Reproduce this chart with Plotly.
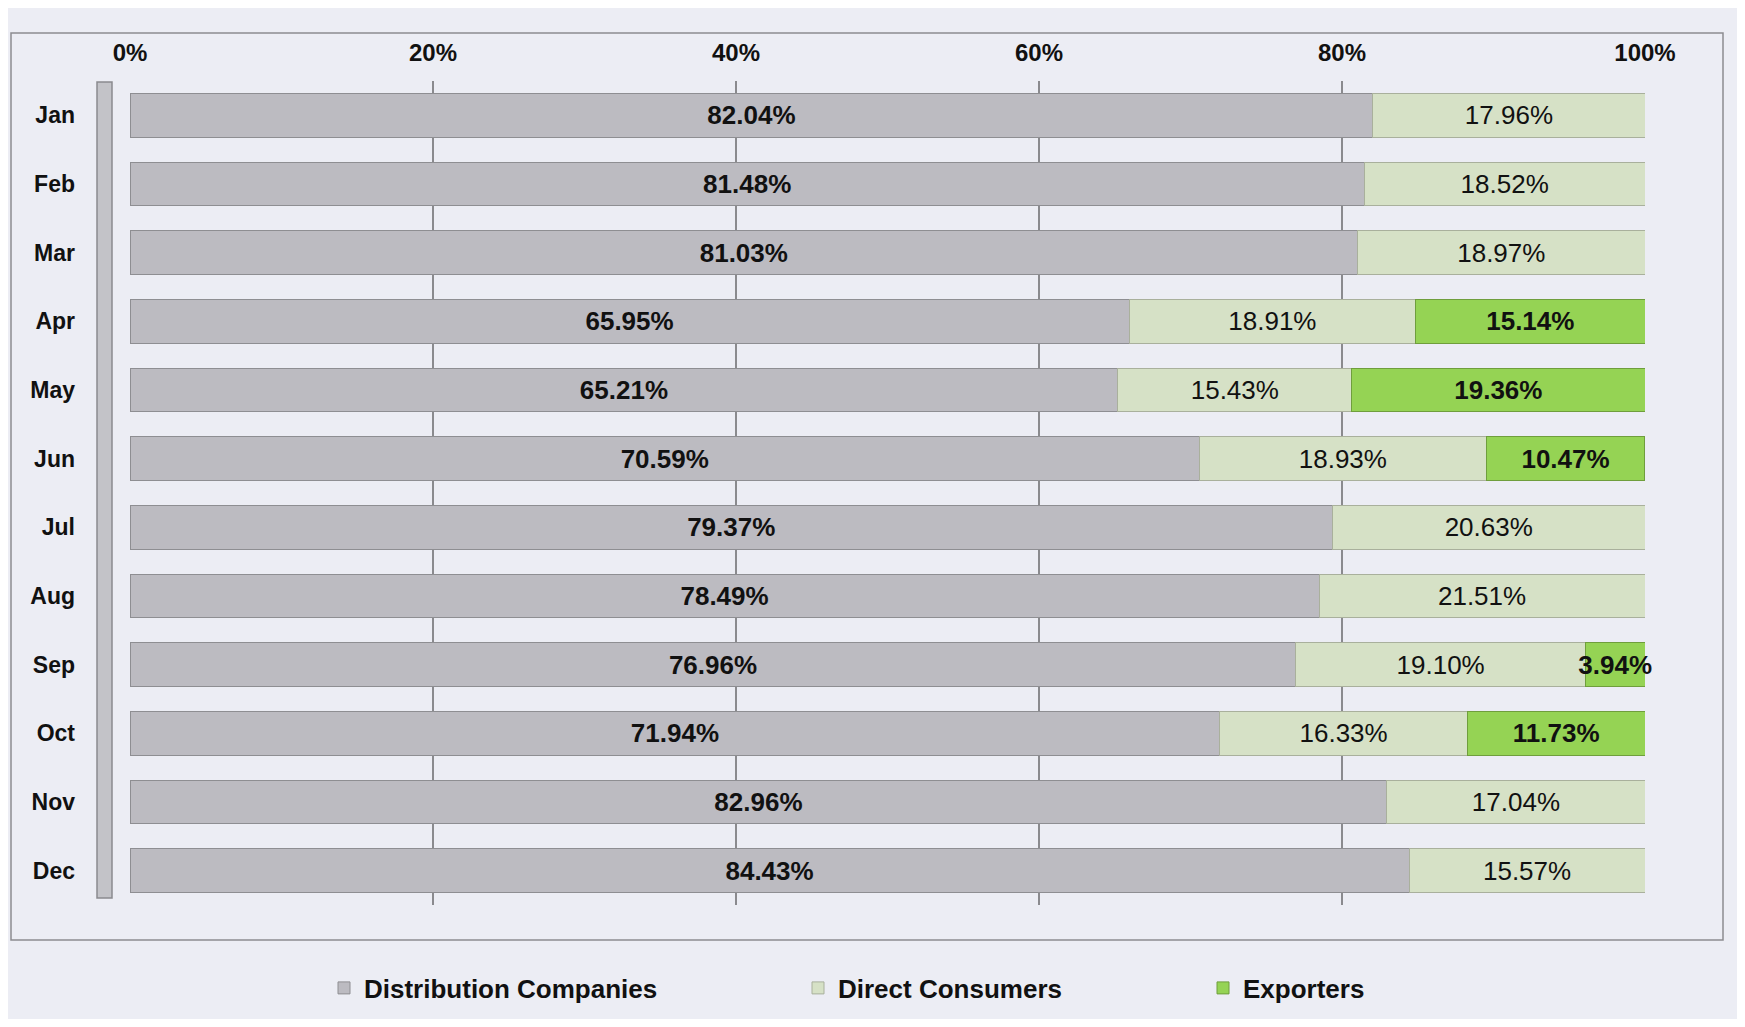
import plotly.graph_objects as go

months = ["Jan", "Feb", "Mar", "Apr", "May", "Jun", "Jul", "Aug", "Sep", "Oct", "Nov", "Dec"]
distribution = [82.04, 81.48, 81.03, 65.95, 65.21, 70.59, 79.37, 78.49, 76.96, 71.94, 82.96, 84.43]
direct = [17.96, 18.52, 18.97, 18.91, 15.43, 18.93, 20.63, 21.51, 19.10, 16.33, 17.04, 15.57]
exporters = [None, None, None, 15.14, 19.36, 10.47, None, None, 3.94, 11.73, None, None]
tick_vals = [0, 20, 40, 60, 80, 100]
tick_text = ["0%", "20%", "40%", "60%", "80%", "100%"]

FONT = "Liberation Sans, Arial, sans-serif"


def labels(vals):
    return ["" if v is None else f"{v:.2f}%" for v in vals]


fig = go.Figure()
fig.add_trace(go.Bar(
    y=months, x=distribution, orientation="h", name="Distribution Companies",
    marker=dict(color="#bcbbc1", line=dict(color="#8e8e92", width=1)),
    text=labels(distribution), textposition="inside", insidetextanchor="middle",
    constraintext="none",
    textfont=dict(family=FONT, size=26, color="#111111", weight="bold"),
    hoverinfo="skip", legend="legend",
))
fig.add_trace(go.Bar(
    y=months, x=direct, orientation="h", name="Direct Consumers",
    marker=dict(color="#d6e1c6", line=dict(color="#a9b09c", width=1)),
    text=labels(direct), textposition="inside", insidetextanchor="middle",
    constraintext="none",
    textfont=dict(family=FONT, size=26, color="#111111"),
    hoverinfo="skip", legend="legend2",
))
fig.add_trace(go.Bar(
    y=months, x=exporters, orientation="h", name="Exporters",
    marker=dict(color="#95d354", line=dict(color="#6f9e3c", width=1)),
    text=labels(exporters), textposition="inside", insidetextanchor="middle",
    constraintext="none",
    textfont=dict(family=FONT, size=26, color="#111111", weight="bold"),
    hoverinfo="skip", cliponaxis=False, legend="legend3",
))

# the page body adds an 8px margin; work in page coordinates and compensate
OFF = 8
W, H = 1745 - 2 * OFF, 1027 - 2 * OFF
PL, PR, PT, PB = 130, 1645, 81, 905  # plot area in page pixels
L = PL - OFF
R = W - (PR - OFF)
T = PT - OFF
B = H - (PB - OFF)
pw, ph = PR - PL, PB - PT


def px(x):
    return (x - PL) / pw


def py(y):
    return (PB - y) / ph


shapes = [
    # outer chart border
    dict(type="rect", xref="paper", yref="paper",
         x0=px(11), x1=px(1723), y0=py(940), y1=py(33),
         line=dict(color="#8c8c90", width=1.5), fillcolor="rgba(0,0,0,0)", layer="below"),
    # left wall
    dict(type="rect", xref="paper", yref="paper",
         x0=px(97), x1=px(112), y0=py(898), y1=py(82),
         line=dict(color="#8a8a8e", width=1.5), fillcolor="#c3c3c8", layer="below"),
]


def legend_at(xpage):
    return dict(
        orientation="h", x=px(xpage), xanchor="left", y=py(988), yanchor="middle",
        font=dict(family=FONT, size=26, color="#111111", weight="bold"),
        bgcolor="rgba(0,0,0,0)", itemclick=False, itemdoubleclick=False,
    )


fig.update_layout(
    barmode="stack",
    bargap=0.36,
    width=W, height=H,
    margin=dict(l=L, r=R, t=T, b=B, pad=0, autoexpand=False),
    paper_bgcolor="#ecedf4",
    plot_bgcolor="#ecedf4",
    font=dict(family=FONT, color="#111111"),
    showlegend=True,
    legend=legend_at(324),
    legend2=legend_at(798),
    legend3=legend_at(1203),
    xaxis=dict(
        side="top", range=[0, 100], tickvals=tick_vals, ticktext=tick_text,
        showgrid=True, gridcolor="#8a8a8e", gridwidth=1.5, zeroline=False,
        showline=False, ticks="", ticklabelstandoff=14, automargin=False,
        tickfont=dict(family=FONT, size=24, color="#111111", weight="bold"),
        fixedrange=True,
    ),
    yaxis=dict(
        autorange="reversed", categoryorder="array", categoryarray=months,
        showgrid=False, zeroline=False, showline=False, ticks="",
        ticklabelstandoff=54, automargin=False,
        tickfont=dict(family=FONT, size=23, color="#111111", weight="bold"),
        fixedrange=True,
    ),
    shapes=shapes,
)

fig.write_html("out.html")
